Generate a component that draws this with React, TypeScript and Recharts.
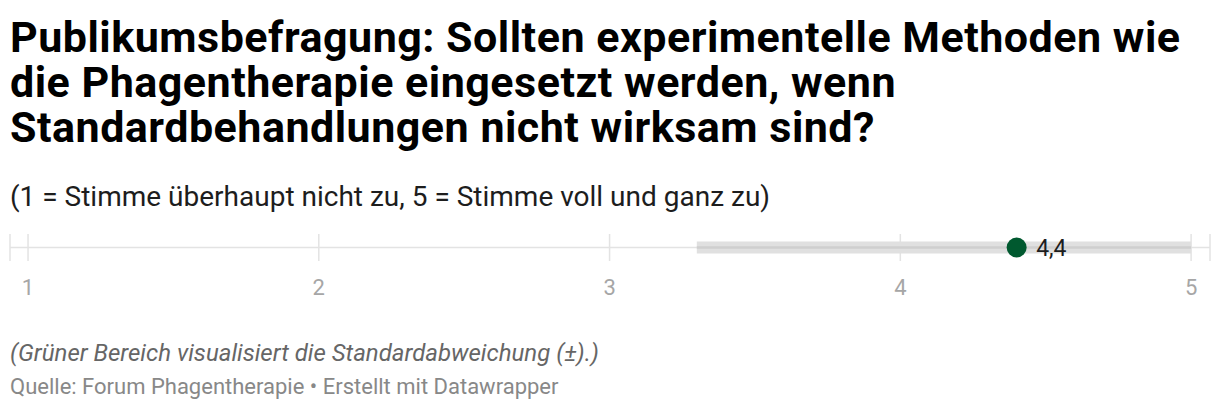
import { ComposedChart, Line, Scatter, XAxis, YAxis, CartesianGrid, LabelList } from 'recharts'

document.body.style.margin = '0'

const title = [
  'Publikumsbefragung: Sollten experimentelle Methoden wie',
  'die Phagentherapie eingesetzt werden, wenn',
  'Standardbehandlungen nicht wirksam sind?',
]
const subtitle = '(1 = Stimme überhaupt nicht zu, 5 = Stimme voll und ganz zu)'
const note = '(Grüner Bereich visualisiert die Standardabweichung (±).)'
const source = 'Quelle: Forum Phagentherapie • Erstellt mit Datawrapper'

const xTicks = [1, 2, 3, 4, 5]
const meanValue = 4.4
const sdLow = 3.3
const sdHigh = 5

const bandData = [
  { x: sdLow, y: 0.5 },
  { x: sdHigh, y: 0.5 },
]
const meanData = [{ x: meanValue, y: 0.5, label: '4,4' }]

const font = 'Roboto, sans-serif'

export default function App() {
  return (
    <div style={{ width: 1220, height: 412, fontFamily: font, position: 'relative', background: '#fff' }}>
      <div
        style={{
          position: 'absolute',
          left: 10,
          top: 15,
          fontSize: 43,
          lineHeight: '45px',
          fontWeight: 700,
          color: '#000',
          letterSpacing: 0.5,
        }}
      >
        {title.map((t) => (
          <div key={t}>{t}</div>
        ))}
      </div>
      <div style={{ position: 'absolute', left: 10, top: 180, fontSize: 28, color: '#1d1d1d' }}>{subtitle}</div>
      <div style={{ position: 'absolute', left: 0, top: 234 }}>
        <ComposedChart width={1220} height={80} margin={{ top: 0, right: 10, bottom: 0, left: 10 }}>
          <CartesianGrid horizontal={false} stroke="#e3e3e3" strokeWidth={1.5} />
          <XAxis
            type="number"
            dataKey="x"
            domain={[0.938, 5.065]}
            ticks={xTicks}
            allowDataOverflow
            axisLine={false}
            tickLine={false}
            tickMargin={12}
            height={53}
            tick={{ fontSize: 22, fill: '#a6a6a6', fontFamily: font }}
          />
          <YAxis type="number" dataKey="y" domain={[0, 1]} hide />
          <Line
            data={[{ x: 0.938, y: 0.5 }, { x: 5.065, y: 0.5 }]}
            dataKey="y"
            stroke="#e3e3e3"
            strokeWidth={1.5}
            dot={false}
            isAnimationActive={false}
          />
          <Line
            data={bandData}
            dataKey="y"
            stroke="#e0e0e0"
            strokeWidth={12}
            strokeLinecap="butt"
            dot={false}
            isAnimationActive={false}
          />
          <Line
            data={bandData}
            dataKey="y"
            stroke="#cfcfcf"
            strokeWidth={2.5}
            strokeLinecap="butt"
            dot={false}
            isAnimationActive={false}
          />
          <Scatter
            data={meanData}
            dataKey="y"
            fill="#00592f"
            shape={(p: any) => <circle cx={p.cx} cy={p.cy} r={10} fill="#00592f" />}
            isAnimationActive={false}
          >
            <LabelList dataKey="label" position="right" offset={15} style={{ fontSize: 23, fill: '#1d1d1d', fontFamily: font }} />
          </Scatter>
        </ComposedChart>
      </div>
      <div style={{ position: 'absolute', left: 10, top: 339, fontSize: 24, fontStyle: 'italic', color: '#666' }}>{note}</div>
      <div style={{ position: 'absolute', left: 10, top: 374, fontSize: 22, color: '#888' }}>{source}</div>
    </div>
  )
}
